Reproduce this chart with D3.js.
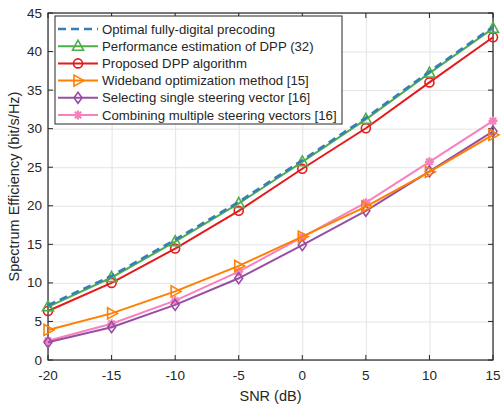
<!DOCTYPE html>
<html>
<head>
<meta charset="utf-8">
<script src="https://cdn.jsdelivr.net/npm/d3@7"></script>
<style>
  body { margin: 0; background: #fff; }
  svg { font-family: "Liberation Sans", Arial, sans-serif; }
  .grid line { stroke: #e3e3e3; stroke-width: 1; }
  .grid path { display: none; }
  .tick-lbl { font-size: 13.5px; fill: #262626; }
</style>
</head>
<body>
<script>
// SNR values on the x axis
var snr = [-20, -15, -10, -5, 0, 5, 10, 15];
var xTicks = [-20, -15, -10, -5, 0, 5, 10, 15];
var yTicks = [0, 5, 10, 15, 20, 25, 30, 35, 40, 45];

// spectrum efficiency (bit/s/Hz)
var optimal   = [7.1, 10.9, 15.6, 20.5, 25.9, 31.4, 37.4, 43.2];
var estimate  = [6.9, 10.7, 15.35, 20.3, 25.7, 31.2, 37.2, 43.0];
var proposed  = [6.35, 10.0, 14.45, 19.35, 24.8, 30.05, 36.0, 41.85];
var wideband  = [3.9, 6.05, 8.9, 12.2, 16.0, 19.9, 24.4, 29.2];
var singleSV  = [2.3, 4.25, 7.15, 10.6, 14.9, 19.35, 24.45, 29.65];
var multiSV   = [2.5, 4.7, 7.7, 11.45, 15.95, 20.4, 25.7, 31.0];

var names = [
  "Optimal fully-digital precoding",
  "Performance estimation of DPP (32)",
  "Proposed DPP algorithm",
  "Wideband optimization method [15]",
  "Selecting single steering vector [16]",
  "Combining multiple steering vectors [16]"
];

var series = [
  { name: names[0], values: optimal,  color: "#377eb8", marker: "none",     dash: "8,5", width: 2.6 },
  { name: names[1], values: estimate, color: "#4daf4a", marker: "triangle", dash: null,  width: 2 },
  { name: names[2], values: proposed, color: "#e41a1c", marker: "circle",   dash: null,  width: 2 },
  { name: names[3], values: wideband, color: "#ff7f00", marker: "tright",   dash: null,  width: 2 },
  { name: names[4], values: singleSV, color: "#984ea3", marker: "diamond",  dash: null,  width: 2 },
  { name: names[5], values: multiSV,  color: "#f781bf", marker: "star",     dash: null,  width: 2 }
];

var width = 503, height = 405;
var margin = { top: 13, right: 10, bottom: 45, left: 48 };
var w = width - margin.left - margin.right;
var h = height - margin.top - margin.bottom;

var svg = d3.select("body").append("svg")
  .attr("width", width).attr("height", height);

var g = svg.append("g")
  .attr("transform", "translate(" + margin.left + "," + margin.top + ")");

var x = d3.scaleLinear().domain([-20, 15]).range([0, w]);
var y = d3.scaleLinear().domain([0, 45]).range([h, 0]);

// grid
g.append("g").attr("class", "grid")
  .call(d3.axisBottom(x).tickValues(xTicks).tickSize(h).tickFormat(""));
g.append("g").attr("class", "grid")
  .call(d3.axisLeft(y).tickValues(yTicks).tickSize(-w).tickFormat(""));

// box
g.append("rect").attr("x", 0).attr("y", 0).attr("width", w).attr("height", h)
  .attr("fill", "none").attr("stroke", "#262626").attr("stroke-width", 1.2);

// inward ticks on all sides
var tl = 5;
xTicks.forEach(function(t) {
  g.append("line").attr("x1", x(t)).attr("x2", x(t)).attr("y1", h).attr("y2", h - tl)
    .attr("stroke", "#262626");
  g.append("line").attr("x1", x(t)).attr("x2", x(t)).attr("y1", 0).attr("y2", tl)
    .attr("stroke", "#262626");
  g.append("text").attr("class", "tick-lbl").attr("x", x(t)).attr("y", h + 20)
    .attr("text-anchor", "middle").text(t);
});
yTicks.forEach(function(t) {
  g.append("line").attr("x1", 0).attr("x2", tl).attr("y1", y(t)).attr("y2", y(t))
    .attr("stroke", "#262626");
  g.append("line").attr("x1", w).attr("x2", w - tl).attr("y1", y(t)).attr("y2", y(t))
    .attr("stroke", "#262626");
  g.append("text").attr("class", "tick-lbl").attr("x", -6).attr("y", y(t) + 4.5)
    .attr("text-anchor", "end").text(t);
});

// axis labels
svg.append("text").attr("x", margin.left + w / 2).attr("y", 401)
  .attr("text-anchor", "middle").attr("font-size", 14.5).attr("fill", "#262626")
  .text("SNR (dB)");
svg.append("text")
  .attr("transform", "translate(19," + (margin.top + h / 2) + ") rotate(-90)")
  .attr("text-anchor", "middle").attr("font-size", 14.5).attr("fill", "#262626")
  .text("Spectrum Efficiency (bit/s/Hz)");

function drawMarker(sel, type, color, cx, cy) {
  if (type === "triangle") {
    sel.append("path").attr("d", "M0,-6L5.5,4L-5.5,4Z")
      .attr("transform", "translate(" + cx + "," + cy + ")")
      .attr("fill", "none").attr("stroke", color).attr("stroke-width", 1.6);
  } else if (type === "circle") {
    sel.append("circle").attr("cx", cx).attr("cy", cy).attr("r", 4.5)
      .attr("fill", "none").attr("stroke", color).attr("stroke-width", 1.6);
  } else if (type === "tright") {
    sel.append("path").attr("d", "M6,0L-4,-5.5L-4,5.5Z")
      .attr("transform", "translate(" + cx + "," + cy + ")")
      .attr("fill", "none").attr("stroke", color).attr("stroke-width", 1.6);
  } else if (type === "diamond") {
    sel.append("path").attr("d", "M0,-5.5L4,0L0,5.5L-4,0Z")
      .attr("transform", "translate(" + cx + "," + cy + ")")
      .attr("fill", "none").attr("stroke", color).attr("stroke-width", 1.6);
  } else if (type === "star") {
    sel.append("path").attr("d", "M0,-4.5L0,4.5M-4.5,0L4.5,0M-3.2,-3.2L3.2,3.2M-3.2,3.2L3.2,-3.2")
      .attr("transform", "translate(" + cx + "," + cy + ")")
      .attr("fill", "none").attr("stroke", color).attr("stroke-width", 2.2);
    sel.append("circle").attr("cx", cx).attr("cy", cy).attr("r", 2.6).attr("fill", color);
  }
}

var line = d3.line()
  .x(function(d, i) { return x(snr[i]); })
  .y(function(d) { return y(d); });

// draw lower series first so the top ones sit above
var order = [5, 4, 3, 2, 1, 0];
order.forEach(function(k) {
  var s = series[k];
  g.append("path").datum(s.values)
    .attr("d", line)
    .attr("fill", "none")
    .attr("stroke", s.color)
    .attr("stroke-width", s.width)
    .attr("stroke-dasharray", s.dash);
  if (s.marker !== "none") {
    s.values.forEach(function(v, i) {
      drawMarker(g, s.marker, s.color, x(snr[i]), y(v));
    });
  }
});

// legend
var lg = svg.append("g");
lg.append("rect").attr("x", 55).attr("y", 16).attr("width", 287).attr("height", 108)
  .attr("fill", "#fff").attr("stroke", "#262626").attr("stroke-width", 1);
series.forEach(function(s, i) {
  var ly = 29 + i * 17.2;
  lg.append("line").attr("x1", 58).attr("x2", 98).attr("y1", ly).attr("y2", ly)
    .attr("stroke", s.color).attr("stroke-width", s.width)
    .attr("stroke-dasharray", s.dash);
  if (s.marker !== "none") drawMarker(lg, s.marker, s.color, 78, ly);
  lg.append("text").attr("x", 102).attr("y", ly + 4.5)
    .attr("font-size", 13.2).attr("fill", "#262626").text(s.name);
});
</script>
</body>
</html>
